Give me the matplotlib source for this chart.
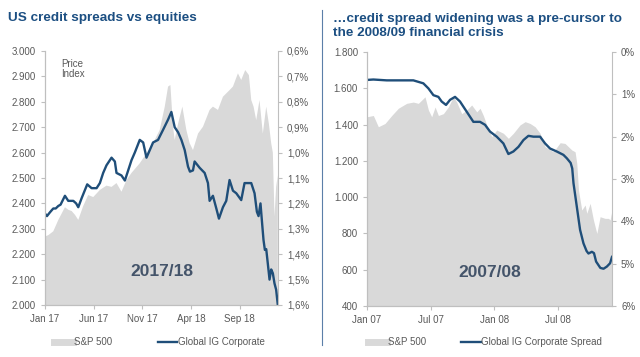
import matplotlib
matplotlib.use("Agg")
import matplotlib.pyplot as plt
from matplotlib.lines import Line2D
from matplotlib.ticker import FuncFormatter

plt.rcParams['font.family'] = ['Liberation Sans', 'DejaVu Sans']

# ---- 2017/18 (months since Jan 2017) ----
sp_x_17 = [0, 0.34, 0.85, 1.37, 1.71, 2.05, 2.39, 2.74, 3.08, 3.42, 3.93, 4.44, 4.96, 5.64,
           6.32, 6.84, 7.35, 7.86, 8.38, 8.89, 9.74, 10.43, 11.11, 11.79, 12.31, 12.65, 12.89,
           13.16, 13.33, 13.68, 14.12, 14.53, 14.87, 15.21, 15.73, 16.24, 16.92, 17.26, 17.78,
           18.29, 18.97, 19.32, 19.83, 20.17, 20.58, 20.96, 21.2, 21.44, 21.71, 22.05, 22.39,
           22.74, 23.01, 23.25, 23.42, 23.59, 23.76, 23.93]
sp_y_17 = [2270, 2275, 2290, 2335, 2360, 2385, 2375, 2370, 2355, 2335, 2390, 2433, 2425, 2453,
           2470, 2465, 2480, 2446, 2492, 2520, 2558, 2597, 2637, 2689, 2781, 2860, 2866,
           2702, 2650, 2714, 2781, 2689, 2637, 2610, 2675, 2702, 2768, 2781, 2768,
           2820, 2846, 2860, 2912, 2886, 2925, 2905, 2807, 2781, 2728, 2807, 2675,
           2781, 2714, 2637, 2600, 2348, 2466, 2510]

ig_x_17 = [0, 0.2, 0.51, 0.85, 1.1, 1.37, 1.6, 2.05, 2.39, 2.91, 3.2, 3.42, 3.76, 4.34, 4.79,
           5.3, 5.64, 5.98, 6.32, 6.84, 7.18, 7.35, 7.86, 8.21, 8.55, 8.89, 9.23, 9.74, 10.09,
           10.43, 10.77, 11.11, 11.62, 12.14, 12.65, 12.99, 13.33, 13.68, 14.02, 14.36, 14.7,
           14.9, 15.21, 15.38, 15.9, 16.41, 16.75, 16.92, 17.26, 17.61, 17.88, 18.29, 18.63,
           18.97, 19.32, 19.66, 20.17, 20.51, 21.2, 21.54, 21.78, 21.95, 22.15, 22.32, 22.46,
           22.6, 22.74, 22.9, 23.08, 23.25, 23.42, 23.59, 23.76, 23.93]
ig_y_17 = [1.24, 1.25, 1.235, 1.22, 1.22, 1.21, 1.205, 1.17, 1.19, 1.19, 1.2, 1.215, 1.18, 1.125, 1.14,
           1.14, 1.12, 1.08, 1.05, 1.02, 1.035, 1.08, 1.09, 1.11, 1.07, 1.03, 1.0, 0.95, 0.96,
           1.02, 0.99, 0.96, 0.95, 0.91, 0.87, 0.84, 0.90, 0.92, 0.95, 0.99, 1.055,
           1.075, 1.07, 1.035, 1.06, 1.08, 1.12, 1.19, 1.17, 1.22, 1.26, 1.215, 1.19,
           1.108, 1.15, 1.16, 1.187, 1.12, 1.12, 1.16, 1.233, 1.25, 1.2, 1.28, 1.344,
           1.383, 1.38, 1.436, 1.5, 1.46, 1.475, 1.515, 1.54, 1.6]

# ---- 2007/08 (months since Jan 2007) ----
sp_x_07 = [0, 0.6, 1.07, 1.7, 2.33, 2.96, 3.74, 4.37, 4.84, 5.16, 5.47, 5.79, 6.1, 6.42, 6.73,
           7.2, 7.67, 8.14, 8.46, 8.93, 9.4, 9.87, 10.35, 10.66, 10.97, 11.29, 11.76, 12.23,
           12.86, 13.33, 13.8, 14.43, 14.91, 15.38, 15.85, 16.32, 16.79, 17.58, 18.21, 18.67,
           19.31, 19.62, 19.78, 19.94, 20.25, 20.57, 20.72, 21.04, 21.35, 21.67, 21.98, 22.45,
           22.77, 22.92, 23.1]
sp_y_07 = [1443, 1450, 1388, 1406, 1450, 1490, 1517, 1524, 1517, 1535, 1553, 1480, 1443, 1497, 1450,
           1460, 1497, 1553, 1524, 1460, 1480, 1508, 1470, 1490, 1450, 1398, 1333, 1370,
           1352, 1324, 1352, 1398, 1416, 1406, 1388, 1352, 1278, 1250, 1300, 1296,
           1260, 1250, 1186, 1039, 929, 957, 911, 966, 874, 800, 892, 883,
           883, 874, 929]

ig_x_07 = [0, 0.6, 1.86, 2.8, 4.37, 5.31, 5.79, 6.26, 6.73, 7.04, 7.45, 7.83, 8.3, 8.77, 9.4,
           10.03, 10.66, 11.13, 11.6, 12.23, 12.86, 13.33, 13.8, 14.28, 14.75, 15.22, 15.69,
           16.32, 16.79, 17.26, 17.89, 18.52, 18.84, 19.2, 19.35, 19.47, 19.78, 20.09, 20.41,
           20.7, 20.88, 21.2, 21.4, 21.6, 22.0, 22.3, 22.61, 22.92, 23.1]
ig_y_07 = [0.66, 0.65, 0.67, 0.67, 0.67, 0.74, 0.86, 1.02, 1.06, 1.17, 1.25, 1.13, 1.06, 1.17, 1.41,
           1.65, 1.65, 1.72, 1.88, 2.0, 2.16, 2.41, 2.35, 2.24, 2.08, 1.98, 2.0,
           2.0, 2.16, 2.28, 2.35, 2.43, 2.51, 2.62, 2.75, 3.1, 3.65, 4.2, 4.52,
           4.7, 4.76, 4.72, 4.75, 4.95, 5.1, 5.12, 5.07, 4.99, 4.84]

left_ticks = [0, 5, 10, 15, 20]
left_labels = ['Jan 17', 'Jun 17', 'Nov 17', 'Apr 18', 'Sep 18']
right_ticks = [0, 6, 12, 18]
right_labels = ['Jan 07', 'Jul 07', 'Jan 08', 'Jul 08']

GREY = '#D9D9D9'
BLUE = '#1F4E79'
TXT = '#595959'
SPINE = '#BFBFBF'
TITLE = '#1C4F82'

fig = plt.figure(figsize=(6.4, 3.57), dpi=100)


def style(ax):
    ax.spines['top'].set_visible(False)
    for s in ['left', 'right', 'bottom']:
        ax.spines[s].set_color(SPINE)
    ax.tick_params(colors=TXT, labelsize=7, length=3, color=SPINE)


def panel(rect, sx, sy, ix, iy, xmax, ylim, yticks, yfmt, y2lim, y2ticks, y2fmt, xt, xl, label):
    ax = fig.add_axes(rect)
    ax.fill_between(sx, 0, sy, color=GREY, lw=0)
    ax.set_xlim(0, xmax)
    ax.set_ylim(*ylim)
    ax.set_yticks(yticks)
    ax.yaxis.set_major_formatter(FuncFormatter(yfmt))
    ax.set_xticks(xt)
    ax.set_xticklabels(xl)
    style(ax)
    ax.spines['right'].set_visible(False)
    ax2 = ax.twinx()
    ax2.plot(ix, iy, color=BLUE, lw=1.7)
    ax2.set_ylim(*y2lim)
    ax2.set_yticks(y2ticks)
    ax2.yaxis.set_major_formatter(FuncFormatter(y2fmt))
    style(ax2)
    ax.text(0.5, 0.13, label, transform=ax.transAxes, ha='center', va='center',
            fontsize=12.5, fontweight='bold', color='#44546A')
    return ax, ax2


def thousands(v, p):
    return '{:,.0f}'.format(v).replace(',', '.')


def thousands3(v, p):
    return '{:.3f}'.format(v / 1000)


axL, axL2 = panel([45 / 640, 52 / 357, 233 / 640, 254 / 357], sp_x_17, sp_y_17, ig_x_17, ig_y_17,
                  23.95, (2000, 3000), list(range(2000, 3001, 100)), thousands3,
                  (1.6, 0.6), [0.6 + 0.1 * i for i in range(11)],
                  lambda v, p: '{:.1f}%'.format(v).replace('.', ','),
                  left_ticks, left_labels, '2017/18')
axL.text(0.07, 0.97, 'Price\nIndex', transform=axL.transAxes, ha='left', va='top',
         fontsize=7, color=TXT, linespacing=1.1)

axR, axR2 = panel([367 / 640, 51 / 357, 245 / 640, 254 / 357], sp_x_07, sp_y_07, ig_x_07, ig_y_07,
                  23.1, (400, 1800), list(range(400, 1801, 200)), thousands,
                  (6, 0), list(range(0, 7)), lambda v, p: '{:.0f}%'.format(v),
                  right_ticks, right_labels, '2007/08')

fig.text(8 / 640, 1 - 18 / 357, 'US credit spreads vs equities', fontsize=9.7,
         fontweight='bold', color=TITLE, va='center')
fig.text(333 / 640, 1 - 26 / 357, '\u2026credit spread widening was a pre-cursor to\nthe 2008/09 financial crisis',
         fontsize=9.7, fontweight='bold', color=TITLE, va='center', linespacing=1.25)

fig.add_artist(Line2D([321.5 / 640, 321.5 / 640], [1 - 10 / 357, 1 - 345 / 357], color='#5B7FA8', lw=0.8))

for x0, name, cs in [(54 / 640, 'Global IG Corporate', 4.7), (368 / 640, 'Global IG Corporate Spread', 3.6)]:
    handles = [Line2D([], [], color=GREY, lw=5), Line2D([], [], color=BLUE, lw=1.7)]
    fig.legend(handles, ['S&P 500', name], loc='center left', bbox_to_anchor=(x0, 1 - 342 / 357),
               ncol=2, frameon=False, fontsize=7, handlelength=2.0, handletextpad=0.05,
               columnspacing=cs, borderpad=0, borderaxespad=0, labelcolor=TXT)

fig.savefig('out.png', dpi=100)
